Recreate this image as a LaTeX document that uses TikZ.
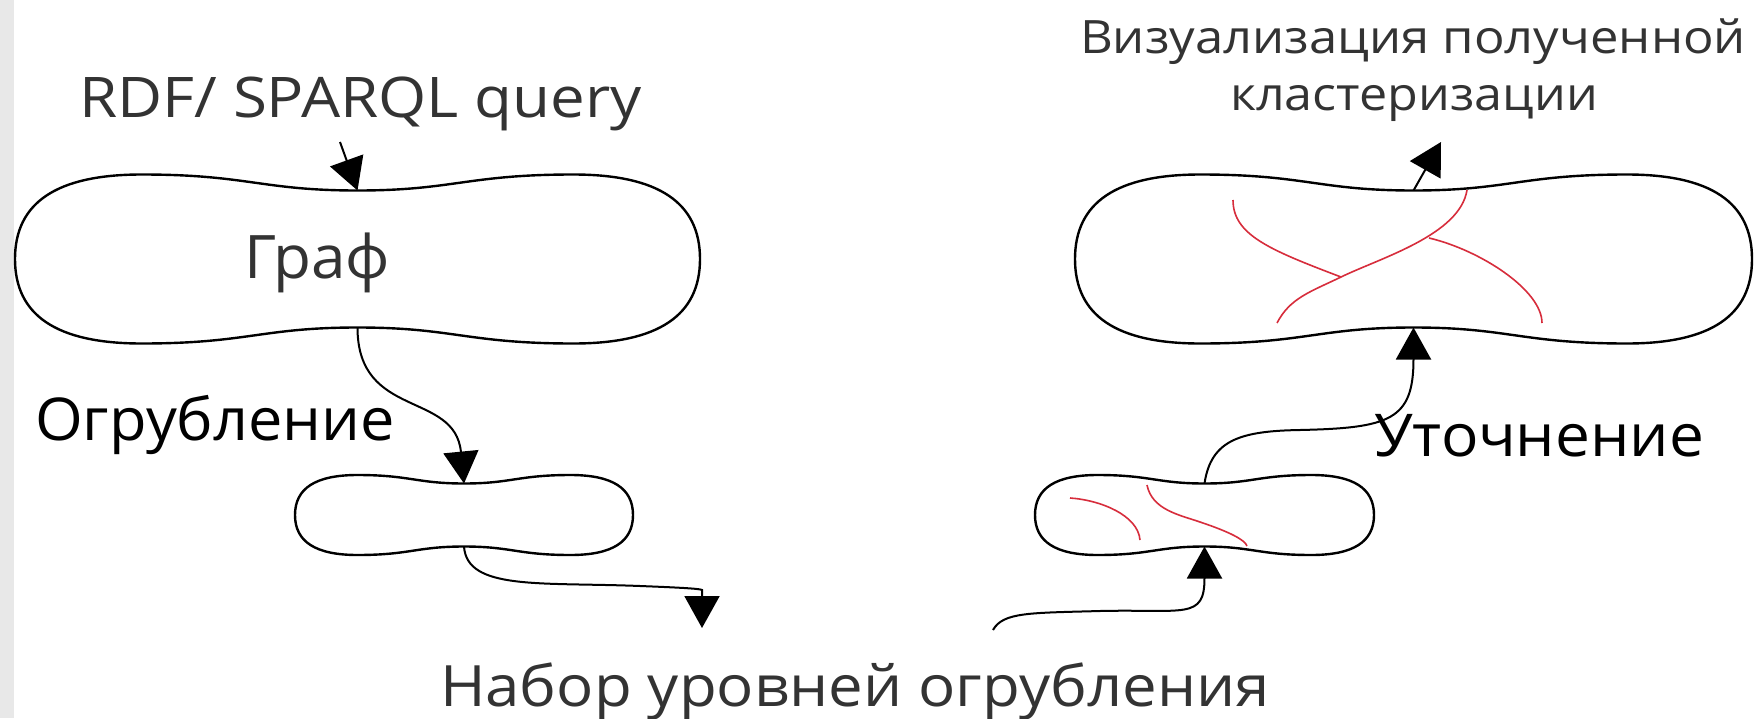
\documentclass[tikz,border=0pt]{standalone}
\usepackage{fontspec}
\setmainfont{Open Sans}
\usetikzlibrary{arrows.meta}

\definecolor{inkgray}{HTML}{333333}
\definecolor{stripgray}{HTML}{E8E8E8}
\definecolor{clusterred}{RGB}{215,45,60}

\tikzset{
  blobbox/.style={rectangle, draw=none, inner sep=0pt, outer sep=0pt},
  blobline/.style={draw=black, line width=2.4pt},
  flow/.style={draw=black, line width=2pt, -{Triangle[length=32pt,width=35pt]}},
  cluster/.style={draw=clusterred, line width=1.6pt},
  lbl/.style={inner sep=0pt, outer sep=0pt},
}

% Peanut-shaped outline: name, centre x, centre y, half width, half height, waist depth.
% Also defines the coordinates <name>-top and <name>-bot at the pinched waist.
\newcommand\peanut[6]{%
  \node[blobbox, minimum width=2*#4pt, minimum height=2*#5pt] (#1) at (#2,#3) {};
  \coordinate (#1-top) at (#2,{#3-#5+#6});
  \coordinate (#1-bot) at (#2,{#3+#5-#6});
  \draw[blobline]
    (#1-top)
    .. controls ({#2+0.28*#4},{#3-#5+#6}) and ({#2+0.32*#4},{#3-#5}) .. ({#2+0.63*#4},{#3-#5})
    .. controls ({#2+0.878*#4},{#3-#5}) and ({#2+#4},{#3-0.67*#5}) .. ({#2+#4},#3)
    .. controls ({#2+#4},{#3+0.67*#5}) and ({#2+0.878*#4},{#3+#5}) .. ({#2+0.63*#4},{#3+#5})
    .. controls ({#2+0.32*#4},{#3+#5}) and ({#2+0.28*#4},{#3+#5-#6}) .. (#1-bot)
    .. controls ({#2-0.28*#4},{#3+#5-#6}) and ({#2-0.32*#4},{#3+#5}) .. ({#2-0.63*#4},{#3+#5})
    .. controls ({#2-0.878*#4},{#3+#5}) and ({#2-#4},{#3+0.67*#5}) .. ({#2-#4},#3)
    .. controls ({#2-#4},{#3-0.67*#5}) and ({#2-0.878*#4},{#3-#5}) .. ({#2-0.63*#4},{#3-#5})
    .. controls ({#2-0.32*#4},{#3-#5}) and ({#2-0.28*#4},{#3-#5+#6}) .. cycle;
}

\begin{document}
\begin{tikzpicture}[x=1pt, y=-1pt]
  \useasboundingbox (0,0) rectangle (1754,718);
  \fill[white] (0,0) rectangle (1754,718);
  \fill[stripgray] (0,0) rectangle (14,718);

  % outlines
  \peanut{graph}{357.5}{259}{342.5}{84.5}{16}
  \peanut{result}{1413.5}{259}{338.5}{84.5}{16}
  \peanut{coarse}{464}{515}{169}{40}{8.5}
  \peanut{refine}{1204.5}{515}{169.5}{40}{8.5}

  % labels
  \node[lbl, text=inkgray, anchor=base west, font=\fontsize{56pt}{62pt}\selectfont]
    (rdf) at (79,117) {\resizebox{563pt}{\height}{RDF/ SPARQL query}};
  \node[lbl, text=inkgray, anchor=base west, font=\fontsize{60pt}{66pt}\selectfont]
    (graphlabel) at (244,278) {\resizebox{146pt}{\height}{Граф}};
  \node[lbl, text=inkgray, anchor=base, font=\fontsize{46pt}{52pt}\selectfont]
    (viz1) at (1413,53) {\resizebox{666pt}{\height}{Визуализация полученной}};
  \node[lbl, text=inkgray, anchor=base, font=\fontsize{46pt}{52pt}\selectfont]
    (viz2) at (1414,110) {\resizebox{368pt}{\height}{кластеризации}};
  \node[lbl, text=black, anchor=base west, font=\fontsize{59pt}{65pt}\selectfont]
    (coarsen) at (35,440) {\resizebox{360pt}{\height}{Огрубление}};
  \node[lbl, text=black, anchor=base west, font=\fontsize{59pt}{65pt}\selectfont]
    (refinelbl) at (1374,456) {\resizebox{330pt}{\height}{Уточнение}};
  \node[lbl, text=inkgray, anchor=base west, font=\fontsize{57pt}{63pt}\selectfont]
    (levels) at (440,706) {\resizebox{830pt}{\height}{Набор уровней огрубления}};

  % loose connector ends
  \coordinate (rdfout) at (340,142);
  \coordinate (levelsin) at (702,628);
  \coordinate (levelsout) at (993,630);
  \coordinate (vizin) at (1441,142);

  % connectors
  \draw[flow] (rdfout) -- (graph-top);
  \draw[flow] (graph-bot) .. controls +(0,92) and +(-9,-93) .. (coarse-top);
  \draw[flow] (coarse-bot) .. controls +(3,44) and (540,582) .. (640,586)
              .. controls (692,588) and (700,589) .. (702,590) -- (levelsin);
  \draw[flow] (levelsout) .. controls (1003,612) and (1030,613) .. (1100,611)
              .. controls (1185,609) and (1204.5,620) .. (refine-bot);
  \draw[flow] (refine-top) .. controls (1211,440) and (1240,431) .. (1300,430)
              .. controls (1390,428) and (1413.5,420) .. (result-bot);
  \draw[flow] (result-top) -- (vizin);

  % clusters on the large outline
  \draw[cluster] (1233,200) .. controls (1233,235) and (1270,250) .. (1341,277);
  \draw[cluster] (1277,323) .. controls (1290,298) and (1310,292) .. (1341,277)
                 .. controls (1380,258) and (1460,235) .. (1467,190);
  \draw[cluster] (1429,238) .. controls (1480,250) and (1542,290) .. (1542,323);

  % clusters on the small outline
  \draw[cluster] (1070,498) .. controls (1100,500) and (1138,515) .. (1140,540);
  \draw[cluster] (1147,485) .. controls (1152,510) and (1180,515) .. (1200,522)
                 .. controls (1230,532) and (1245,540) .. (1247,546);
\end{tikzpicture}
\end{document}
